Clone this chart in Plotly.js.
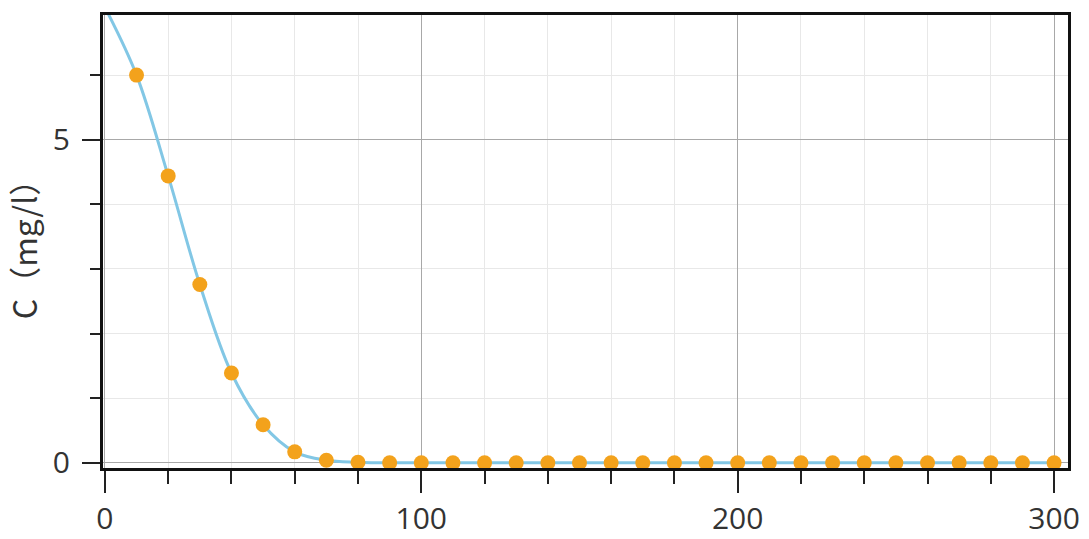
<!DOCTYPE html>
<html>
<head>
<meta charset="utf-8">
<script src="https://cdn.plot.ly/plotly-3.0.1.min.js"></script>
<style>html,body{margin:0;padding:0;background:#fff;}#chart{width:1089px;height:539px;}</style>
</head>
<body>
<div id="chart"></div>
<script>
// Time (x) and concentration C (mg/l)
const time = [0,10,20,30,40,50,60,70,80,90,100,110,120,130,140,150,160,170,180,190,200,210,220,230,240,250,260,270,280,290,300];
const conc = [7.05,6.0,4.44,2.76,1.39,0.59,0.17,0.04,0.01,0,0,0,0,0,0,0,0,0,0,0,0,0,0,0,0,0,0,0,0,0,0];
const xTickVals = [0,100,200,300];
const xTickText = ['0','100','200','300'];
const yTickVals = [0,5];
const yTickText = ['0','5'];
const yTitle = 'C（mg/l）';

const lineTrace = {
  x: time, y: conc, type: 'scatter', mode: 'lines',
  line: {color: '#82c7e5', width: 3, shape: 'spline', smoothing: 1},
  hoverinfo: 'skip', showlegend: false
};
const markerTrace = {
  x: time.slice(1), y: conc.slice(1), type: 'scatter', mode: 'markers',
  marker: {color: '#f3a21c', size: 15},
  showlegend: false
};

const font = {family: '"Open Sans", "Noto Sans", sans-serif', color: '#333'};
const layout = {
  width: 1089, height: 539,
  margin: {l: 103, r: 21, t: 15, b: 71},
  paper_bgcolor: '#fff', plot_bgcolor: '#fff',
  font: font,
  xaxis: {
    range: [-0.6, 304.4],
    tickmode: 'array', tickvals: xTickVals, ticktext: xTickText,
    ticks: 'outside', ticklen: 22, tickwidth: 2, tickcolor: '#222',
    tickfont: {size: 30, color: '#333', family: font.family},
    ticklabelstandoff: 0,
    showline: true, linecolor: '#111', linewidth: 3, mirror: true,
    showgrid: true, gridcolor: '#a8a8a8', gridwidth: 1,
    zeroline: false,
    minor: {dtick: 20, ticks: 'outside', ticklen: 13, tickwidth: 2, tickcolor: '#222', showgrid: true, gridcolor: '#e8e8e8', gridwidth: 1}
  },
  yaxis: {
    range: [-0.08, 6.93],
    tickmode: 'array', tickvals: yTickVals, ticktext: yTickText,
    ticks: 'outside', ticklen: 18, tickwidth: 2, tickcolor: '#222',
    tickfont: {size: 30, color: '#333', family: font.family},
    ticklabelstandoff: 6,
    showline: true, linecolor: '#111', linewidth: 3, mirror: true,
    showgrid: true, gridcolor: '#a8a8a8', gridwidth: 1,
    zeroline: false,
    minor: {dtick: 1, ticks: 'outside', ticklen: 10, tickwidth: 2, tickcolor: '#222', showgrid: true, gridcolor: '#e8e8e8', gridwidth: 1},
    title: {text: yTitle, font: {size: 32, color: '#333', family: '"Noto Sans CJK SC", "Open Sans", sans-serif'}, standoff: 8}
  }
};

Plotly.newPlot('chart', [lineTrace, markerTrace], layout, {displayModeBar: false, staticPlot: true});
</script>
</body>
</html>
